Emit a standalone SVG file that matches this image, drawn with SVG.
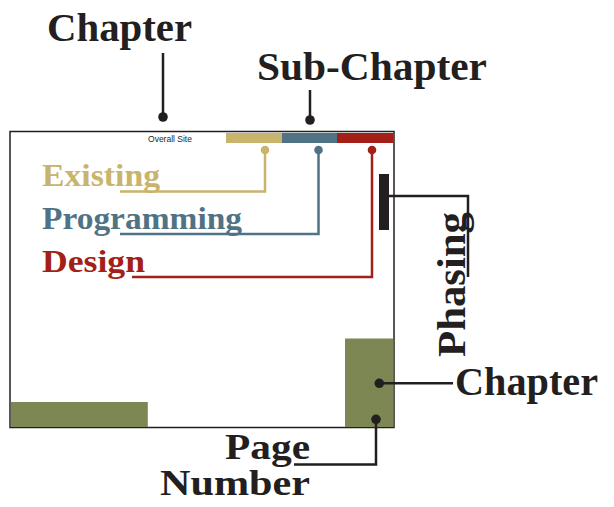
<svg xmlns="http://www.w3.org/2000/svg" width="614" height="507" viewBox="0 0 614 507">
<style>
.lbl{font-family:"Liberation Serif","Times New Roman",serif;font-weight:bold;fill:#231F20}
.cat{font-family:"Liberation Serif","Times New Roman",serif;font-weight:bold}
.con{fill:none;stroke-width:2.5}
.k{stroke:#231F20}
.dot{fill:#231F20}
</style>
<rect width="614" height="507" fill="#fff"/>
<g id="page">
<rect x="10" y="131.5" width="384" height="296" fill="#fff" stroke="#231F20" stroke-width="1.5"/>
<text x="170" y="141.5" text-anchor="middle" font-family="'Liberation Sans',Arial,sans-serif" font-size="8.5" fill="#231F20">Overall Site</text>
<rect x="226" y="133" width="56" height="10" fill="#C8B46C"/>
<rect x="282" y="133" width="55" height="10" fill="#4F7385"/>
<rect x="337" y="133" width="56.3" height="10" fill="#A31F17"/>
<rect x="10.8" y="402" width="137" height="25" fill="#7D8754"/>
<rect x="345" y="338.5" width="48.3" height="88.5" fill="#7D8754"/>
<rect x="379" y="174" width="10" height="56" fill="#231F20"/>
</g>
<g id="existing"><text class="cat" x="42" y="186" font-size="32" fill="#C8B46C" textLength="118" lengthAdjust="spacingAndGlyphs">Existing</text></g>
<g id="programming"><text class="cat" x="42" y="229" font-size="32" fill="#4F7385" textLength="200" lengthAdjust="spacingAndGlyphs">Programming</text></g>
<g id="design"><text class="cat" x="42" y="272" font-size="32" fill="#A31F17" textLength="103" lengthAdjust="spacingAndGlyphs">Design</text></g>
<g id="chapter-top"><text class="lbl" x="47" y="41" font-size="41" textLength="145" lengthAdjust="spacingAndGlyphs">Chapter</text></g>
<g id="sub-chapter"><text class="lbl" x="257" y="80" font-size="41" textLength="230" lengthAdjust="spacingAndGlyphs">Sub-Chapter</text></g>
<g id="phasing"><text class="lbl" transform="translate(465,357) rotate(-90)" font-size="41" textLength="145" lengthAdjust="spacingAndGlyphs">Phasing</text></g>
<g id="chapter-right"><text class="lbl" x="455" y="395" font-size="41" textLength="143" lengthAdjust="spacingAndGlyphs">Chapter</text></g>
<g id="page-number">
<text class="lbl" x="225" y="459" font-size="36" textLength="85" lengthAdjust="spacingAndGlyphs">Page</text>
<text class="lbl" x="160" y="495" font-size="36" textLength="150" lengthAdjust="spacingAndGlyphs">Number</text>
</g>
<g id="connectors">
<path class="con" stroke="#C8B46C" d="M265 150V191.5H120"/>
<circle cx="265" cy="150" r="4.3" fill="#C8B46C"/>
<path class="con" stroke="#4F7385" d="M318.5 150V234H120"/>
<circle cx="318.5" cy="150" r="4.3" fill="#4F7385"/>
<path class="con" stroke="#A31F17" d="M372 150V277H132"/>
<circle cx="372" cy="150" r="4.3" fill="#A31F17"/>
<path class="con k" d="M163 53V117"/>
<circle class="dot" cx="163" cy="117" r="4.8"/>
<path class="con k" d="M310 90V120"/>
<circle class="dot" cx="310" cy="120" r="4.8"/>
<path class="con k" d="M389 196H468V277"/>
<path class="con k" d="M379.3 383.3H453"/>
<circle class="dot" cx="379.3" cy="383.3" r="4.8"/>
<path class="con k" d="M376 419.3V464.5H294"/>
<circle class="dot" cx="376" cy="419.3" r="4.8"/>
</g>
</svg>
